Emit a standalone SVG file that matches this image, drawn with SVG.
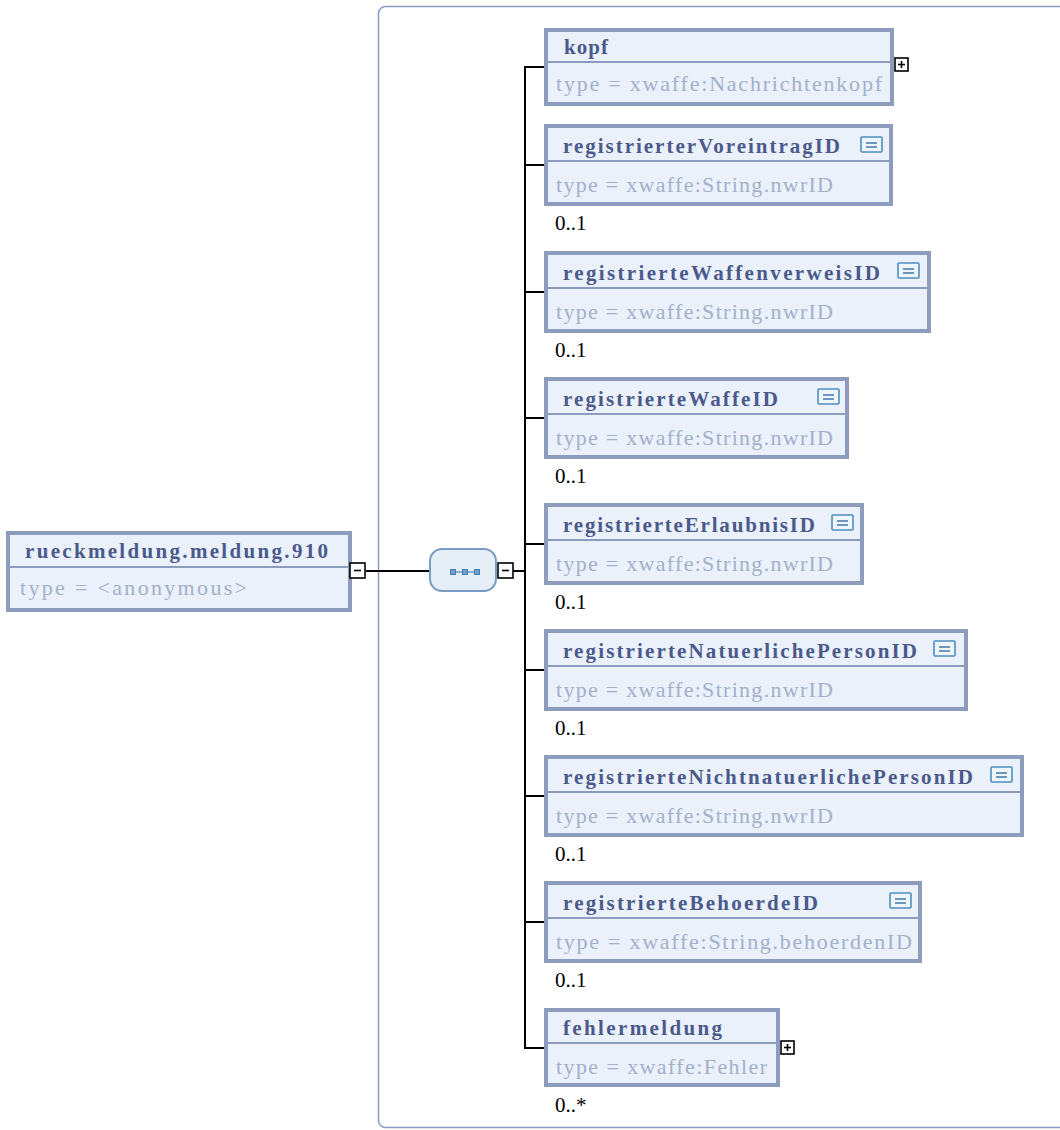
<svg xmlns="http://www.w3.org/2000/svg" width="1060" height="1130" viewBox="0 0 1060 1130">
<style>
.box{fill:#eaf1fb;stroke:#8d9cbd;stroke-width:4}
.div{stroke:#8d9cbd;stroke-width:2}
.hd{font-family:"Liberation Serif",serif;font-weight:bold;font-size:21px;fill:#4b5a8b}
.tp{font-family:"Liberation Serif",serif;font-size:22px;fill:#a2b0ca}
.card{font-family:"Liberation Serif",serif;font-size:21px;fill:#000}
.ln{stroke:#000;stroke-width:2;fill:none}
.pm{fill:#fff;stroke:#000;stroke-width:1.6}
.ic{fill:#eef6fc;stroke:#4d8fc0;stroke-width:1.6}
.icl{stroke:#4d7fb0;stroke-width:1.6}
.dot{fill:#6fa0cc;stroke:#3f7fb5;stroke-width:1}
</style>
<defs>
<g id="icon"><rect class="ic" x="0" y="0" width="21" height="15" rx="1"/><line class="icl" x1="5" y1="6" x2="16" y2="6"/><line class="icl" x1="5" y1="10" x2="16" y2="10"/></g>
<g id="plus"><rect class="pm" x="0" y="0" width="13" height="13"/><line x1="3" y1="6.5" x2="10" y2="6.5" stroke="#000" stroke-width="1.6"/><line x1="6.5" y1="3" x2="6.5" y2="10" stroke="#000" stroke-width="1.6"/></g>
<g id="minus"><rect class="pm" x="0" y="0" width="15" height="15"/><line x1="4" y1="7.5" x2="11" y2="7.5" stroke="#000" stroke-width="1.6"/></g>
</defs>
<rect x="378.5" y="6.5" width="700" height="1121" rx="7" fill="none" stroke="#8a9cc4" stroke-width="1.5"/>
<g id="connectors">
<line class="ln" x1="366" y1="571" x2="430" y2="571"/>
<line class="ln" x1="513" y1="571" x2="525" y2="571"/>
<line class="ln" x1="525" y1="67" x2="525" y2="1048"/>
<line class="ln" x1="524" y1="67" x2="546" y2="67"/>
<line class="ln" x1="524" y1="165" x2="546" y2="165"/>
<line class="ln" x1="524" y1="292" x2="546" y2="292"/>
<line class="ln" x1="524" y1="418" x2="546" y2="418"/>
<line class="ln" x1="524" y1="544" x2="546" y2="544"/>
<line class="ln" x1="524" y1="670" x2="546" y2="670"/>
<line class="ln" x1="524" y1="796" x2="546" y2="796"/>
<line class="ln" x1="524" y1="922" x2="546" y2="922"/>
<line class="ln" x1="524" y1="1048" x2="546" y2="1048"/>
</g>
<g id="root">
<rect class="box" x="8" y="533" width="342" height="77"/>
<line class="div" x1="10" y1="567" x2="348" y2="567"/>
<text class="hd" x="25" y="558" textLength="303" lengthAdjust="spacing">rueckmeldung.meldung.910</text>
<text class="tp" x="20" y="595" textLength="227" lengthAdjust="spacing">type = &lt;anonymous&gt;</text>
<use href="#minus" x="350" y="563"/>
</g>
<g id="sequence">
<rect x="430" y="549" width="66" height="42" rx="12" fill="#e6eef8" stroke="#7b9cc2" stroke-width="2"/>
<line x1="453" y1="572" x2="477" y2="572" stroke="#4a88c0" stroke-width="1.2"/>
<rect class="dot" x="450.5" y="569.5" width="5" height="5"/>
<rect class="dot" x="462.5" y="569.5" width="5" height="5"/>
<rect class="dot" x="474.5" y="569.5" width="5" height="5"/>
<use href="#minus" x="498" y="563"/>
</g>
<g id="kopf">
<rect class="box" x="546" y="30" width="346" height="74"/>
<line class="div" x1="548" y1="62" x2="890" y2="62"/>
<text class="hd" x="564" y="54" textLength="44" lengthAdjust="spacing">kopf</text>
<text class="tp" x="556" y="91" textLength="326" lengthAdjust="spacing">type = xwaffe:Nachrichtenkopf</text>
<use href="#plus" x="895" y="58"/>
</g>
<g id="registrierterVoreintragID">
<rect class="box" x="546" y="126" width="345" height="78"/>
<line class="div" x1="548" y1="161" x2="889" y2="161"/>
<text class="hd" x="563" y="153" textLength="277" lengthAdjust="spacing">registrierterVoreintragID</text>
<use href="#icon" x="861" y="137"/>
<text class="tp" x="556" y="192" textLength="277" lengthAdjust="spacing">type = xwaffe:String.nwrID</text>
<text class="card" x="555" y="230">0..1</text>
</g>
<g id="registrierteWaffenverweisID">
<rect class="box" x="546" y="253" width="383" height="78"/>
<line class="div" x1="548" y1="288" x2="927" y2="288"/>
<text class="hd" x="563" y="280" textLength="317" lengthAdjust="spacing">registrierteWaffenverweisID</text>
<use href="#icon" x="898" y="263"/>
<text class="tp" x="556" y="319" textLength="277" lengthAdjust="spacing">type = xwaffe:String.nwrID</text>
<text class="card" x="555" y="357">0..1</text>
</g>
<g id="registrierteWaffeID">
<rect class="box" x="546" y="379" width="301" height="78"/>
<line class="div" x1="548" y1="414" x2="845" y2="414"/>
<text class="hd" x="563" y="406" textLength="215" lengthAdjust="spacing">registrierteWaffeID</text>
<use href="#icon" x="818" y="389"/>
<text class="tp" x="556" y="445" textLength="277" lengthAdjust="spacing">type = xwaffe:String.nwrID</text>
<text class="card" x="555" y="483">0..1</text>
</g>
<g id="registrierteErlaubnisID">
<rect class="box" x="546" y="505" width="316" height="78"/>
<line class="div" x1="548" y1="540" x2="860" y2="540"/>
<text class="hd" x="563" y="532" textLength="252" lengthAdjust="spacing">registrierteErlaubnisID</text>
<use href="#icon" x="832" y="515"/>
<text class="tp" x="556" y="571" textLength="277" lengthAdjust="spacing">type = xwaffe:String.nwrID</text>
<text class="card" x="555" y="609">0..1</text>
</g>
<g id="registrierteNatuerlichePersonID">
<rect class="box" x="546" y="631" width="420" height="78"/>
<line class="div" x1="548" y1="666" x2="964" y2="666"/>
<text class="hd" x="563" y="658" textLength="354" lengthAdjust="spacing">registrierteNatuerlichePersonID</text>
<use href="#icon" x="934" y="641"/>
<text class="tp" x="556" y="697" textLength="277" lengthAdjust="spacing">type = xwaffe:String.nwrID</text>
<text class="card" x="555" y="735">0..1</text>
</g>
<g id="registrierteNichtnatuerlichePersonID">
<rect class="box" x="546" y="757" width="476" height="78"/>
<line class="div" x1="548" y1="792" x2="1020" y2="792"/>
<text class="hd" x="563" y="784" textLength="410" lengthAdjust="spacing">registrierteNichtnatuerlichePersonID</text>
<use href="#icon" x="991" y="767"/>
<text class="tp" x="556" y="823" textLength="277" lengthAdjust="spacing">type = xwaffe:String.nwrID</text>
<text class="card" x="555" y="861">0..1</text>
</g>
<g id="registrierteBehoerdeID">
<rect class="box" x="546" y="883" width="374" height="78"/>
<line class="div" x1="548" y1="918" x2="918" y2="918"/>
<text class="hd" x="563" y="910" textLength="255" lengthAdjust="spacing">registrierteBehoerdeID</text>
<use href="#icon" x="890" y="893"/>
<text class="tp" x="556" y="949" textLength="356" lengthAdjust="spacing">type = xwaffe:String.behoerdenID</text>
<text class="card" x="555" y="987">0..1</text>
</g>
<g id="fehlermeldung">
<rect class="box" x="546" y="1010" width="232" height="75"/>
<line class="div" x1="548" y1="1043" x2="776" y2="1043"/>
<text class="hd" x="563" y="1035" textLength="159" lengthAdjust="spacing">fehlermeldung</text>
<text class="tp" x="556" y="1074" textLength="211" lengthAdjust="spacing">type = xwaffe:Fehler</text>
<use href="#plus" x="781" y="1041"/>
<text class="card" x="555" y="1112">0..*</text>
</g>
</svg>
